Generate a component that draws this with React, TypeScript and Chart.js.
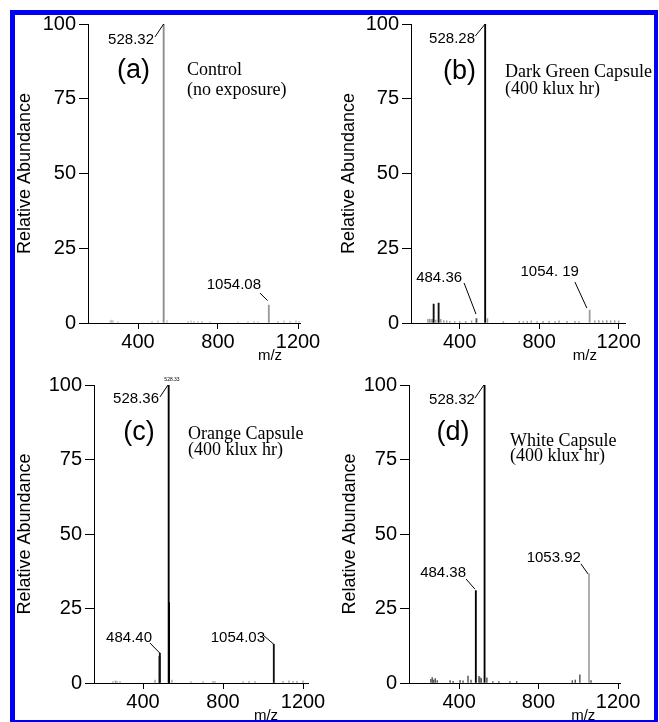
import React, { useEffect, useRef } from 'react';
import { Chart, registerables } from 'chart.js';

Chart.register(...registerables);

const SANS = "'Liberation Sans', Arial, Helvetica, sans-serif";
const SERIF = "'Liberation Serif', 'Times New Roman', serif";

// ---- shared axis ticks ----
const xTickValues = [400, 800, 1200];
const yTickStep = 25;
const yAxisTitle = 'Relative Abundance';
const xAxisTitle = 'm/z';

// ---- panel (a) Control ----
const peakMzA = [528.32, 1054.08];
const peakAbA = [100, 6];
const noiseMzA = [262, 268, 275, 300, 470, 500, 545, 650, 665, 680, 700, 720, 760, 900, 950, 980, 1000, 1100, 1130, 1160, 1190, 1205];
const noiseAbA = [0.8, 1.0, 0.8, 0.5, 0.6, 0.7, 0.8, 0.6, 0.7, 0.6, 0.5, 0.6, 0.5, 0.4, 0.5, 0.6, 0.5, 0.6, 0.7, 0.6, 0.7, 0.5];
const captionA = ['Control', '(no exposure)'];

// ---- panel (b) Dark Green Capsule ----
const peakMzB = [269, 294, 484.36, 528.28, 1054.19];
const peakAbB = [6.3, 6.7, 1.5, 100, 4.3];
const noiseMzB = [240, 248, 256, 263, 280, 305, 320, 335, 350, 375, 400, 430, 460, 540, 620, 700, 720, 740, 760, 790, 820, 850, 880, 900, 940, 980, 1000, 1080, 1100, 1120, 1140, 1160, 1180, 1200];
const noiseAbB = [1.2, 1.3, 1.2, 1.2, 1.0, 1.2, 0.8, 0.7, 0.6, 0.5, 0.6, 0.6, 0.7, 1.5, 0.5, 0.6, 0.5, 0.6, 0.7, 0.5, 0.6, 0.6, 0.5, 0.7, 0.6, 0.6, 0.5, 0.7, 0.8, 0.7, 0.8, 0.7, 0.8, 0.7];
const captionB = ['Dark Green Capsule', '(400 klux hr)'];

// ---- panel (c) Orange Capsule ----
const peakMzC = [482, 484.40, 528.36, 530.5, 1054.03];
const peakAbC = [9, 10, 100, 27, 13];
const noiseMzC = [250, 262, 270, 285, 460, 545, 640, 700, 750, 760, 900, 930, 960, 1100, 1130, 1150, 1170, 1200];
const noiseAbC = [0.5, 0.7, 0.6, 0.5, 1.0, 1.0, 0.5, 0.5, 0.6, 0.5, 0.5, 0.6, 0.5, 0.6, 0.7, 0.6, 0.6, 0.7];
const captionC = ['Orange Capsule', '(400 klux hr)'];

// ---- panel (d) White Capsule ----
const peakMzD = [484.38, 528.32, 1053.92];
const peakAbD = [31, 100, 36.6];
const noiseMzD = [258, 265, 272, 280, 290, 355, 370, 405, 420, 445, 460, 500, 505, 512, 540, 570, 600, 656, 690, 970, 985, 1008, 1064];
const noiseAbD = [1.2, 1.8, 1.0, 1.5, 0.8, 0.8, 0.6, 0.9, 0.7, 2.3, 1.0, 2.2, 1.8, 1.5, 1.7, 0.5, 0.5, 0.5, 0.5, 0.8, 1.0, 2.7, 0.8];
const captionD = ['White Capsule', '(400 klux hr)'];

type Label = { text: string; at: [number, number]; from: [number, number]; to: [number, number] };

type PanelCfg = {
  key: string;
  left: number; top: number; w: number; h: number;
  yw: number; xh: number; padTop: number; padRight: number; titlePad: number;
  min: number; max: number;
  peakMz: number[]; peakAb: number[]; peakColors: string[];
  noiseMz: number[]; noiseAb: number[]; noiseColor: string;
  letter: string; letterAt: [number, number];
  caption: string[]; captionAt: [number, number, number];
  mzAt: number;
  labels: Label[];
  tiny?: { text: string; at: [number, number] };
};

const panels: PanelCfg[] = [
  {
    key: 'a', left: 0, top: 0, w: 330, h: 372, yw: 88, xh: 49, padTop: 24, padRight: 29.6, titlePad: 14,
    min: 150, max: 1212,
    peakMz: peakMzA, peakAb: peakAbA, peakColors: ['#8c8c8c', '#9a9a9a'],
    noiseMz: noiseMzA, noiseAb: noiseAbA, noiseColor: '#c4c4c4',
    letter: '(a)', letterAt: [377, 84.3],
    caption: captionA, captionAt: [645, 83, 76.3],
    mzAt: 1060,
    labels: [
      { text: '528.32', at: [480, 94.6], from: [485, 95.7], to: [528.32, 100] },
      { text: '1054.08', at: [1015, 12.7], from: [1010, 10], to: [1048, 7.5] },
    ],
  },
  {
    key: 'b', left: 329, top: 0, w: 330, h: 372, yw: 82, xh: 49, padTop: 24, padRight: 33.4, titlePad: 9,
    min: 155, max: 1235,
    peakMz: peakMzB, peakAb: peakAbB, peakColors: ['#111', '#111', '#555', '#000', '#a0a0a0'],
    noiseMz: noiseMzB, noiseAb: noiseAbB, noiseColor: '#9a9a9a',
    letter: '(b)', letterAt: [399, 84],
    caption: captionB, captionAt: [628, 82.3, 76.6],
    mzAt: 1030,
    labels: [
      { text: '528.28', at: [477, 95], from: [479, 96], to: [528.28, 100] },
      { text: '484.36', at: [412, 15], from: [422, 13.4], to: [482, 3] },
      { text: '1054. 19', at: [1000, 17], from: [980, 13.7], to: [1040, 5] },
    ],
  },
  {
    key: 'c', left: 0, top: 361, w: 330, h: 361, yw: 94, xh: 39, padTop: 24, padRight: 22, titlePad: 14,
    min: 155, max: 1225,
    peakMz: peakMzC, peakAb: peakAbC, peakColors: ['#333', '#111', '#000', '#000', '#111'],
    noiseMz: noiseMzC, noiseAb: noiseAbC, noiseColor: '#a5a5a5',
    letter: '(c)', letterAt: [380, 84.2],
    caption: captionC, captionAt: [625, 81.9, 76.5],
    mzAt: 1015,
    labels: [
      { text: '528.36', at: [480, 95.3], from: [485, 96], to: [525, 100] },
      { text: '484.40', at: [445, 15], from: [435, 13.4], to: [484.4, 10] },
      { text: '1054.03', at: [1010, 15], from: [1000, 16.1], to: [1054, 13] },
    ],
    tiny: { text: '528.33', at: [545, 101.7] },
  },
  {
    key: 'd', left: 329, top: 361, w: 330, h: 361, yw: 80, xh: 39, padTop: 24, padRight: 39, titlePad: 10,
    min: 148, max: 1210,
    peakMz: peakMzD, peakAb: peakAbD, peakColors: ['#000', '#000', '#a8a8a8'],
    noiseMz: noiseMzD, noiseAb: noiseAbD, noiseColor: '#555',
    letter: '(d)', letterAt: [369, 84.2],
    caption: captionD, captionAt: [656, 79.5, 74.5],
    mzAt: 1025,
    labels: [
      { text: '528.32', at: [480, 95], from: [480, 95.6], to: [525, 100] },
      { text: '484.38', at: [435, 36.9], from: [435, 34.9], to: [480, 31.5] },
      { text: '1053.92', at: [1013, 42], from: [1013, 40], to: [1049, 36.6] },
    ],
  },
];

function makeAnnotPlugin(p: PanelCfg) {
  return {
    id: 'annot_' + p.key,
    afterDraw(chart: any) {
      const { ctx, scales, chartArea } = chart;
      const x = scales.x;
      const y = scales.y;
      const px = (m: number) => x.getPixelForValue(m);
      const py = (a: number) => y.getPixelForValue(a);
      ctx.save();
      ctx.fillStyle = '#000';
      ctx.strokeStyle = '#000';
      ctx.lineWidth = 1;
      ctx.font = `15px ${SANS}`;
      ctx.textAlign = 'right';
      ctx.textBaseline = 'middle';
      for (const l of p.labels) {
        ctx.fillText(l.text, px(l.at[0]), py(l.at[1]));
        ctx.beginPath();
        ctx.moveTo(px(l.from[0]), py(l.from[1]));
        ctx.lineTo(px(l.to[0]), py(l.to[1]));
        ctx.stroke();
      }
      if (p.tiny) {
        ctx.font = `5px ${SANS}`;
        ctx.textAlign = 'center';
        ctx.fillText(p.tiny.text, px(p.tiny.at[0]), py(p.tiny.at[1]));
      }
      ctx.font = `27px ${SANS}`;
      ctx.textAlign = 'center';
      ctx.textBaseline = 'middle';
      ctx.fillText(p.letter, px(p.letterAt[0]), py(p.letterAt[1]));
      ctx.font = `18px ${SERIF}`;
      ctx.textAlign = 'left';
      ctx.textBaseline = 'alphabetic';
      ctx.fillText(p.caption[0], px(p.captionAt[0]), py(p.captionAt[1]));
      ctx.fillText(p.caption[1], px(p.captionAt[0]), py(p.captionAt[2]));
      ctx.font = `15px ${SANS}`;
      ctx.textAlign = 'center';
      ctx.fillText(xAxisTitle, px(p.mzAt), chartArea.bottom + 37);
      ctx.restore();
    },
  };
}

function Panel({ p }: { p: PanelCfg }) {
  const ref = useRef<HTMLCanvasElement>(null);
  useEffect(() => {
    const chart = new Chart(ref.current as HTMLCanvasElement, {
      type: 'bar',
      data: {
        datasets: [
          {
            data: p.peakMz.map((m, i) => ({ x: m, y: p.peakAb[i] })),
            backgroundColor: p.peakColors,
            barThickness: 1.2,
            borderWidth: 0,
            stack: 's',
          } as any,
          {
            data: p.noiseMz.map((m, i) => ({ x: m, y: p.noiseAb[i] })),
            backgroundColor: p.noiseColor,
            barThickness: 0.8,
            borderWidth: 0,
            stack: 's',
          } as any,
        ],
      },
      options: {
        animation: false,
        responsive: false,
        maintainAspectRatio: false,
        devicePixelRatio: 1,
        layout: { padding: { top: p.padTop, right: p.padRight, left: 0, bottom: 0 } },
        plugins: { legend: { display: false }, tooltip: { enabled: false } },
        scales: {
          x: {
            type: 'linear',
            min: p.min,
            max: p.max,
            offset: false,
            afterBuildTicks: (axis: any) => {
              axis.ticks = xTickValues.map((v) => ({ value: v }));
            },
            afterFit: (axis: any) => {
              axis.height = p.xh;
            },
            grid: { display: true, offset: false, drawOnChartArea: false, drawTicks: true, tickLength: 6, color: '#000', lineWidth: 1 },
            border: { display: true, color: '#000', width: 1 },
            ticks: {
              color: '#000',
              font: { family: SANS, size: 20 },
              padding: 1,
              maxRotation: 0,
              autoSkip: false,
              callback: (v: any) => String(v),
            },
          },
          y: {
            type: 'linear',
            min: 0,
            max: 100,
            stacked: false,
            afterFit: (axis: any) => {
              axis.width = p.yw;
            },
            grid: { display: true, drawOnChartArea: false, drawTicks: true, tickLength: 9, color: '#000', lineWidth: 1 },
            border: { display: true, color: '#000', width: 1 },
            ticks: { stepSize: yTickStep, color: '#000', font: { family: SANS, size: 20 }, padding: 3, callback: (v: any) => String(v) },
            title: {
              display: true,
              text: yAxisTitle,
              color: '#000',
              font: { family: SANS, size: 18 },
              padding: { top: p.titlePad, bottom: 0 },
            },
          },
        },
      } as any,
      plugins: [makeAnnotPlugin(p)],
    });
    return () => chart.destroy();
  }, []);
  return (
    <canvas
      ref={ref}
      width={p.w}
      height={p.h}
      style={{ position: 'absolute', left: p.left, top: p.top, width: p.w, height: p.h }}
    />
  );
}

export default function App() {
  return (
    <div style={{ position: 'fixed', left: 0, top: 0, width: 659, height: 722, background: '#fff', overflow: 'hidden' }}>
      {panels.map((p) => (
        <Panel key={p.key} p={p} />
      ))}
      <div
        style={{
          position: 'absolute',
          left: 10,
          top: 10,
          width: 648,
          height: 712,
          boxSizing: 'border-box',
          borderStyle: 'solid',
          borderColor: '#0000f5',
          borderWidth: '5px 4px 2px 5px',
          pointerEvents: 'none',
        }}
      />
    </div>
  );
}
